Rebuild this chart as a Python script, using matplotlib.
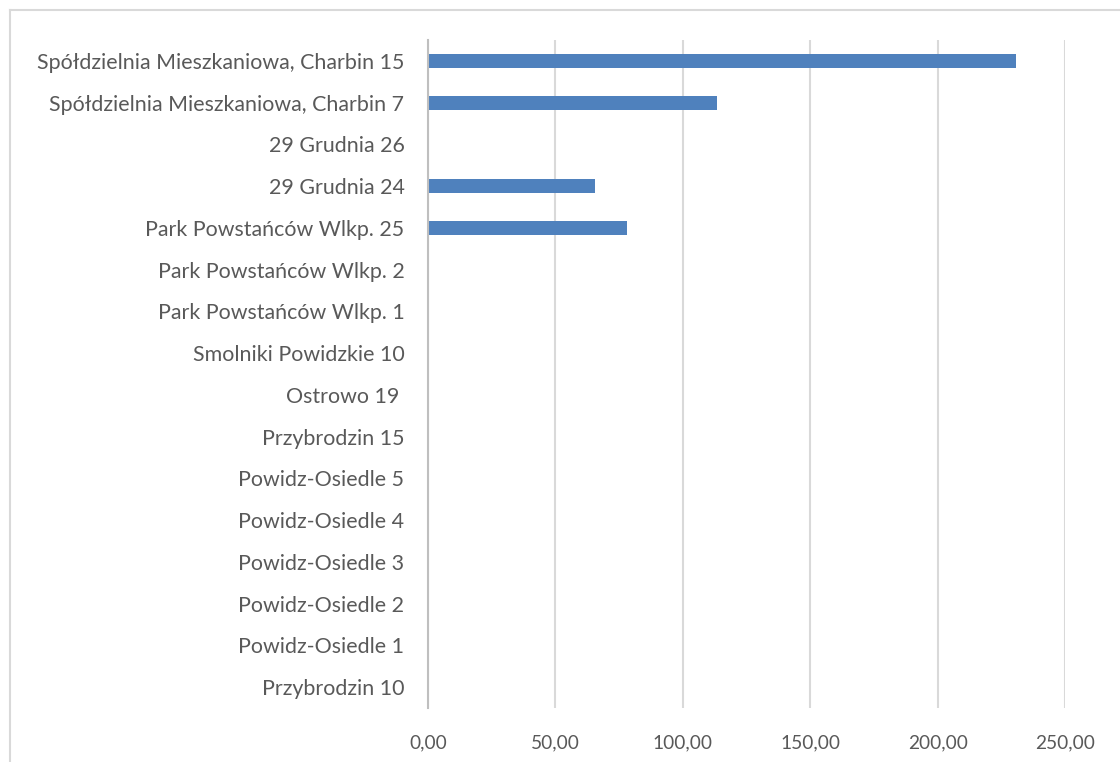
import matplotlib.pyplot as plt
from matplotlib.ticker import FuncFormatter
from matplotlib.lines import Line2D

categories = [
    "Spółdzielnia Mieszkaniowa, Charbin 15",
    "Spółdzielnia Mieszkaniowa, Charbin 7",
    "29 Grudnia 26",
    "29 Grudnia 24",
    "Park Powstańców Wlkp. 25",
    "Park Powstańców Wlkp. 2",
    "Park Powstańców Wlkp. 1",
    "Smolniki Powidzkie 10",
    "Ostrowo 19 ",
    "Przybrodzin 15",
    "Powidz-Osiedle 5",
    "Powidz-Osiedle 4",
    "Powidz-Osiedle 3",
    "Powidz-Osiedle 2",
    "Powidz-Osiedle 1",
    "Przybrodzin 10",
]
values = [230.8, 113.4, 0, 65.5, 78.1, 0, 0, 0, 0, 0, 0, 0, 0, 0, 0, 0]
x_ticks = [0, 50, 100, 150, 200, 250]

plt.rcParams['font.family'] = ['Lato', 'DejaVu Sans']
text_color = "#595959"

fig = plt.figure(figsize=(11.2, 7.62), dpi=100)
ax = fig.add_axes([428 / 1120, 1 - 708 / 762, (1065 - 428) / 1120, (708 - 40) / 762])

ax.barh(range(len(categories)), values, height=0.34, color="#4F81BD")
ax.set_ylim(len(categories) - 0.5, -0.5)
ax.set_xlim(0, 250)
ax.set_yticks(range(len(categories)))
ax.set_yticklabels(categories)
ax.set_xticks(x_ticks)
ax.xaxis.set_major_formatter(FuncFormatter(lambda v, p: f"{v:.2f}".replace(".", ",")))

ax.tick_params(axis="both", length=0, colors=text_color)
ax.tick_params(axis="y", pad=17, labelsize=15.4)
ax.tick_params(axis="x", pad=19, labelsize=13.8)
ax.grid(axis="x", color="#d9d9d9", linewidth=1.5)
ax.set_axisbelow(True)
for side in ["top", "right", "bottom"]:
    ax.spines[side].set_visible(False)
ax.spines["left"].set_color("#bfbfbf")
ax.spines["left"].set_linewidth(1.5)

# chart area border (cut off at right and bottom)
x0 = 10 / 1120
y0 = 1 - 10 / 762
fig.add_artist(Line2D([x0, 1.0], [y0, y0], color="#d9d9d9", linewidth=1.5))
fig.add_artist(Line2D([x0, x0], [0.0, y0], color="#d9d9d9", linewidth=1.5))

fig.savefig("out.png", dpi=100)
